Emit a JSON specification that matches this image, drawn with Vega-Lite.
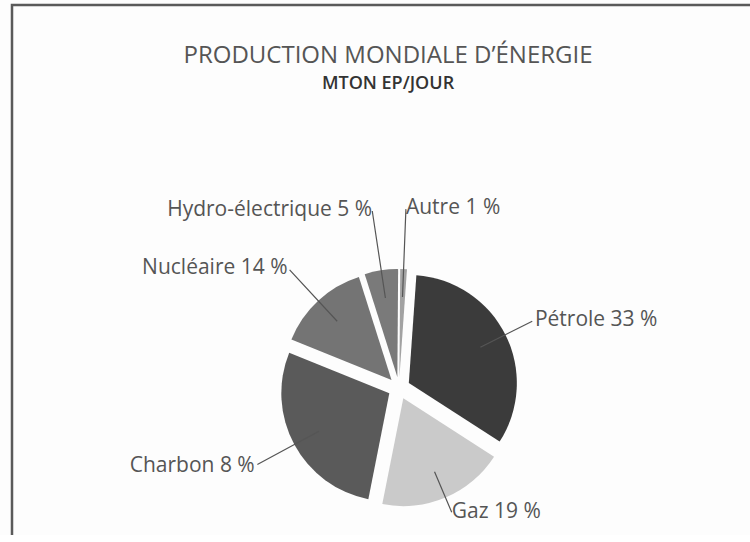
{
  "$schema": "https://vega.github.io/schema/vega-lite/v6.json",
  "width": 774,
  "height": 766,
  "autosize": {"type": "none"},
  "padding": {"left": 12, "top": 5, "right": -36, "bottom": -236},
  "background": "#fdfdfd",
  "view": {"stroke": "#5a5a5a", "strokeWidth": 2.5, "fill": "#fdfdfd"},
  "config": {"font": "Open Sans"},
  "title": {
    "text": "PRODUCTION MONDIALE D’ÉNERGIE",
    "subtitle": "MTON EP/JOUR",
    "orient": "top",
    "anchor": "middle",
    "offset": -88,
    "dx": -11,
    "font": "Open Sans",
    "fontSize": 24,
    "fontWeight": "normal",
    "color": "#555555",
    "subtitleFont": "Open Sans",
    "subtitleFontSize": 18,
    "subtitleFontWeight": 600,
    "subtitleColor": "#333333",
    "subtitlePadding": 7
  },
  "data": {
    "values": [
      {"source": "Pétrole", "value": 33, "label": "Pétrole 33 %"},
      {"source": "Gaz", "value": 19, "label": "Gaz 19 %"},
      {"source": "Charbon", "value": 28, "label": "Charbon 8 %"},
      {"source": "Nucléaire", "value": 14, "label": "Nucléaire 14 %"},
      {"source": "Hydro-électrique", "value": 5, "label": "Hydro-électrique 5 %"},
      {"source": "Autre", "value": 1, "label": "Autre 1 %"}
    ]
  },
  "transform": [
    {"window": [{"op": "row_number", "as": "i"}]},
    {"stack": "value", "groupby": [], "sort": [{"field": "i"}], "as": ["v0", "v1"]},
    {"calculate": "(datum.v0 + datum.v1) / 2", "as": "mid"},
    {"calculate": "0.07 + datum.mid / 100 * 2 * PI", "as": "ang"}
  ],
  "layer": [
    {
      "mark": {
        "type": "arc",
        "outerRadius": 108,
        "xOffset": {"expr": "11 * sin(datum.ang)"},
        "yOffset": {"expr": "-11 * cos(datum.ang)"}
      },
      "encoding": {
        "theta": {"field": "v0", "type": "quantitative", "stack": null, "scale": {"type": "linear", "domain": [0, 100], "range": [0.07, 6.3532]}},
        "theta2": {"field": "v1"},
        "color": {
          "field": "source",
          "type": "nominal",
          "legend": null,
          "scale": {
            "domain": ["Pétrole", "Gaz", "Charbon", "Nucléaire", "Hydro-électrique", "Autre"],
            "range": ["#3b3b3b", "#cacaca", "#5a5a5a", "#747474", "#7a7a7a", "#a2a2a2"]
          }
        }
      }
    },
    {
      "mark": {
        "type": "arc",
        "radius": {"expr": "cos(datum.ang) > 0.8 ? 168 : (cos(datum.ang) < -0.5 ? 124 : (sin(datum.ang) < 0 ? 150 : 138))"},
        "radius2": 80,
        "filled": false,
        "stroke": "#555555",
        "strokeWidth": 1.2,
        "xOffset": {"expr": "11 * sin(datum.ang)"},
        "yOffset": {"expr": "-11 * cos(datum.ang)"}
      },
      "encoding": {
        "theta": {"field": "mid", "type": "quantitative", "stack": null, "scale": {"type": "linear", "domain": [0, 100], "range": [0.07, 6.3532]}},
        "theta2": {"field": "mid"}
      }
    },
    {
      "mark": {
        "type": "text",
        "radius": {"expr": "cos(datum.ang) > 0.8 ? 180 : (cos(datum.ang) < -0.5 ? 135 : (sin(datum.ang) < 0 ? 164 : 152))"},
        "align": {"expr": "sin(datum.ang) < 0 ? 'right' : 'left'"},
        "baseline": "middle",
        "fontSize": 21,
        "font": "Open Sans",
        "color": "#555555"
      },
      "encoding": {
        "theta": {"field": "mid", "type": "quantitative", "stack": null, "scale": {"type": "linear", "domain": [0, 100], "range": [0.07, 6.3532]}},
        "text": {"field": "label"}
      }
    }
  ]
}
